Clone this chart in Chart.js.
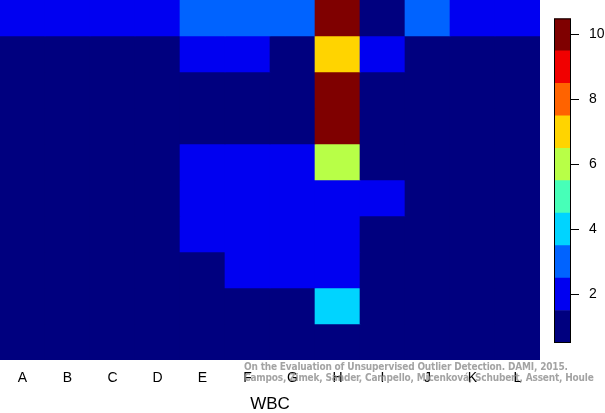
<!DOCTYPE html>
<html>
<head>
<meta charset="utf-8">
<script src="https://cdn.jsdelivr.net/npm/chart.js@4"></script>
<style>
    html, body { margin: 0; padding: 0; background: #fff; }
    #wrap { position: relative; width: 605px; height: 413px; overflow: hidden; }
    #heatmap { position: absolute; left: 0; top: 0; }
    #colorbar { position: absolute; left: 554px; top: 0; }
    #credit {
        position: absolute; left: 244px; top: 361px;
        font: bold 10px 'DejaVu Sans Condensed', 'DejaVu Sans', sans-serif;
        font-stretch: condensed;
        letter-spacing: -0.18px;
        color: rgba(140, 140, 140, 0.8);
        line-height: 11px; white-space: nowrap; pointer-events: none;
    }
</style>
</head>
<body>
<div id="wrap">
    <canvas id="heatmap" width="605" height="413"></canvas>
    <canvas id="colorbar" width="51" height="413"></canvas>
    <div id="credit">On the Evaluation of Unsupervised Outlier Detection. DAMI, 2015.<br>Campos, Zimek, Sander, Campello, Micenková, Schubert, Assent, Houle</div>
</div>
<script>
// Columns of the grid
const columns = ['A', 'B', 'C', 'D', 'E', 'F', 'G', 'H', 'I', 'J', 'K', 'L'];

// Level of each cell, top row first
const rowLevels = [
    [2, 2, 2, 2, 3, 3, 3, 10, 1, 3, 2, 2],
    [1, 1, 1, 1, 2, 2, 1, 7, 2, 1, 1, 1],
    [1, 1, 1, 1, 1, 1, 1, 10, 1, 1, 1, 1],
    [1, 1, 1, 1, 1, 1, 1, 10, 1, 1, 1, 1],
    [1, 1, 1, 1, 2, 2, 2, 6, 1, 1, 1, 1],
    [1, 1, 1, 1, 2, 2, 2, 2, 2, 1, 1, 1],
    [1, 1, 1, 1, 2, 2, 2, 2, 1, 1, 1, 1],
    [1, 1, 1, 1, 1, 2, 2, 2, 1, 1, 1, 1],
    [1, 1, 1, 1, 1, 1, 1, 4, 1, 1, 1, 1],
    [1, 1, 1, 1, 1, 1, 1, 1, 1, 1, 1, 1]
];

// Colour scale
const levels = [1, 2, 3, 4, 5, 6, 7, 8, 9, 10];
const levelColors = ['#00007F', '#0000F1', '#0063FF', '#00D4FF', '#47FFB8',
                     '#B8FF47', '#FFD400', '#FF6300', '#F10000', '#7F0000'];
const colorbarTicks = [2, 4, 6, 8, 10];

const labelFont = { family: "'Liberation Sans', Arial, sans-serif", size: 14 };

// Heatmap: one dataset per row, floating bars spanning one row each
const heatDatasets = rowLevels.map((row, r) => ({
    data: row.map(() => [rowLevels.length - r - 1, rowLevels.length - r]),
    backgroundColor: row.map(l => levelColors[l - 1]),
    borderWidth: 0,
    grouped: false,
    barPercentage: 1,
    categoryPercentage: 1
}));

new Chart(document.getElementById('heatmap'), {
    type: 'bar',
    data: { labels: columns, datasets: heatDatasets },
    options: {
        responsive: false,
        animation: false,
        layout: { padding: { left: 0, right: 65, top: 0, bottom: 0 } },
        plugins: { legend: { display: false }, tooltip: { enabled: false } },
        scales: {
            x: {
                // keep the plot 360px tall so row edges land on whole pixels
                afterFit: s => { s.height = 53; },
                grid: { display: false, drawTicks: false },
                border: { display: false },
                ticks: { color: '#000', font: labelFont, padding: 10 },
                title: {
                    display: true, text: 'WBC', color: '#000',
                    font: { family: labelFont.family, size: 17, lineHeight: 1 },
                    padding: { top: 9, bottom: 0 }
                }
            },
            y: { display: false, min: 0, max: rowLevels.length }
        }
    }
});

// Black frame around the colour bar
const framePlugin = {
    id: 'frame',
    afterDatasetsDraw(chart) {
        const a = chart.chartArea;
        const ctx = chart.ctx;
        ctx.save();
        ctx.strokeStyle = '#000';
        ctx.lineWidth = 1;
        ctx.strokeRect(a.left + 0.5, a.top + 0.5, a.right - a.left - 1, a.bottom - a.top - 1);
        ctx.restore();
    }
};

new Chart(document.getElementById('colorbar'), {
    type: 'bar',
    data: {
        labels: [''],
        datasets: levels.map((l, i) => ({
            data: [[l - 0.5, l + 0.5]],
            backgroundColor: levelColors[i],
            borderWidth: 0,
            grouped: false,
            barPercentage: 1,
            categoryPercentage: 1
        }))
    },
    options: {
        responsive: false,
        animation: false,
        layout: { padding: { left: 0, right: 0, top: 18, bottom: 70 } },
        plugins: { legend: { display: false }, tooltip: { enabled: false } },
        scales: {
            x: { display: false },
            y: {
                position: 'right',
                min: levels[0] - 0.5,
                max: levels[levels.length - 1] + 0.5,
                afterBuildTicks: s => { s.ticks = colorbarTicks.map(v => ({ value: v })); },
                afterFit: s => { s.width = 34; },
                grid: { drawOnChartArea: false, drawTicks: true, tickLength: 8, color: '#000' },
                border: { display: false },
                ticks: { color: '#000', font: labelFont, padding: 10 }
            }
        }
    },
    plugins: [framePlugin]
});
</script>
</body>
</html>
